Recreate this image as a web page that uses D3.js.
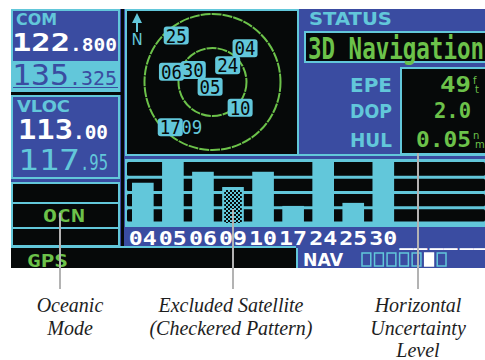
<!DOCTYPE html>
<html>
<head>
<meta charset="utf-8">
<script src="https://cdn.jsdelivr.net/npm/d3@7"></script>
<style>
body { margin: 0; background: #fff; }
svg { display: block; }
</style>
</head>
<body>
<svg id="chart" width="485" height="360"></svg>
<script>
// satellites
var satIds = ["04", "05", "06", "09", "10", "17", "24", "25", "30"];
var satSignal = [6.6, 10, 8.4, 5.9, 8.4, 2.8, 10, 3.3, 10];
var satAzimuth = [44, 207, 284, 205, 133, 223, 42, 322, 302];
var satElevation = [28, 83, 34, 25, 40, 8, 60, 12, 60];
var excludedSats = ["09"];
var emptySlots = ["e1", "e2", "e3"];
var skyDrawOrder = ["09", "17", "25", "04", "24", "06", "30", "05", "10"];

var statusLabels = ["EPE", "DOP", "HUL"];
var statusValues = ["49", "2.0", "0.05"];
var statusUnits = [["f", "t"], [], ["n", "m"]];
var navBoxes = [0, 0, 0, 0, 0, 1, 0];

var captions = [
  {x: 70, lineX: 60, lines: ["Oceanic", "Mode"], lineTop: 213},
  {x: 231, lineX: 233, lines: ["Excluded Satellite", "(Checkered Pattern)"], lineTop: 209},
  {x: 418, lineX: 418, lines: ["Horizontal", "Uncertainty", "Level"], lineTop: 153}
];

var BLUE = "#3a4ca1", CYAN = "#62c7da", GREEN = "#6cc24a", BLACK = "#060909", WHITE = "#ffffff";
var MONO = "DejaVu Sans Mono", SANS = "DejaVu Sans";

var svg = d3.select("#chart");
var defs = svg.append("defs");
var pat = defs.append("pattern").attr("id", "checker")
  .attr("width", 4).attr("height", 4).attr("patternUnits", "userSpaceOnUse");
pat.append("rect").attr("width", 4).attr("height", 4).attr("fill", CYAN);
pat.append("rect").attr("width", 2).attr("height", 2).attr("fill", BLACK);
pat.append("rect").attr("x", 2).attr("y", 2).attr("width", 2).attr("height", 2).attr("fill", BLACK);

function txt(x, y, s, o) {
  var t = svg.append("text").attr("x", x).attr("y", y).text(s)
    .attr("font-family", o.font || MONO)
    .attr("font-size", o.size)
    .attr("font-weight", o.weight || "bold")
    .attr("fill", o.fill)
    .attr("text-anchor", o.anchor || "start");
  if (o.len) t.attr("textLength", o.len).attr("lengthAdjust", "spacingAndGlyphs");
  return t;
}

// screen background
svg.append("rect").attr("x", 11).attr("y", 9).attr("width", 474).attr("height", 259).attr("fill", BLUE);
svg.append("rect").attr("x", 121).attr("y", 9).attr("width", 3).attr("height", 239).attr("fill", BLACK);

// COM box
svg.append("rect").attr("x", 12).attr("y", 10).attr("width", 107).attr("height", 81)
  .attr("fill", BLUE).attr("stroke", CYAN).attr("stroke-width", 2);
txt(16, 25, "COM", {font: SANS, size: 16, fill: CYAN, len: 41});
txt(12, 51, "122", {size: 25, fill: WHITE, len: 58});
txt(70, 51, ".800", {size: 17, fill: WHITE, len: 47});
svg.append("rect").attr("x", 11).attr("y", 61).attr("width", 109).attr("height", 26).attr("fill", CYAN);
txt(12, 85, "135", {size: 29, weight: "normal", fill: BLUE, len: 57});
txt(69, 85, ".325", {size: 19, weight: "normal", fill: BLUE, len: 48});
svg.append("rect").attr("x", 11).attr("y", 88).attr("width", 109).attr("height", 2).attr("fill", CYAN);
svg.append("rect").attr("x", 11).attr("y", 92).attr("width", 110).attr("height", 3).attr("fill", BLACK);

// VLOC box
svg.append("rect").attr("x", 12).attr("y", 96).attr("width", 107).attr("height", 82)
  .attr("fill", BLUE).attr("stroke", CYAN).attr("stroke-width", 2);
txt(17, 112, "VLOC", {font: SANS, size: 16, fill: CYAN, len: 53});
txt(18, 139, "113", {size: 27, fill: WHITE, len: 55});
txt(73, 139, ".00", {size: 19, fill: WHITE, len: 35});
txt(18, 170, "117", {size: 29, weight: "normal", fill: CYAN, len: 62});
txt(80, 170, ".95", {size: 21, weight: "normal", fill: CYAN, len: 28});

// lower-left mode panel
svg.append("rect").attr("x", 12).attr("y", 183).attr("width", 107).attr("height", 63)
  .attr("fill", BLACK).attr("stroke", CYAN).attr("stroke-width", 2);
[203, 228].forEach(function (y) {
  svg.append("rect").attr("x", 12).attr("y", y - 1).attr("width", 107).attr("height", 2).attr("fill", CYAN);
});
txt(43, 222, "OCN", {size: 17, fill: GREEN, len: 42});

// bottom strip
svg.append("rect").attr("x", 11).attr("y", 246).attr("width", 285).attr("height", 2).attr("fill", CYAN);
svg.append("rect").attr("x", 11).attr("y", 248).attr("width", 285).attr("height", 20).attr("fill", BLACK);
txt(27, 267, "GPS", {size: 18, fill: GREEN, len: 41});
svg.append("rect").attr("x", 296).attr("y", 248).attr("width", 2).attr("height", 20).attr("fill", CYAN);
txt(303, 266, "NAV", {font: SANS, size: 17, fill: WHITE, len: 40});
var navX = d3.scaleBand().domain(d3.range(navBoxes.length)).range([362, 446]).paddingInner(0.3);
svg.selectAll(".navbox").data(navBoxes).enter().append("rect")
  .attr("x", function (d, i) { return navX(i); })
  .attr("y", 253).attr("width", navX.bandwidth()).attr("height", 13)
  .attr("fill", function (d) { return d ? WHITE : "none"; })
  .attr("stroke", function (d) { return d ? WHITE : CYAN; })
  .attr("stroke-width", 1.5);

// sky view
svg.append("rect").attr("x", 126).attr("y", 10).attr("width", 172).attr("height", 145)
  .attr("fill", BLACK).attr("stroke", CYAN).attr("stroke-width", 2);
var cx = 212.5, cy = 82;
var rScale = d3.scaleLinear().domain([90, 0]).range([0, 68]);
[0, 45].forEach(function (el) {
  svg.append("circle").attr("cx", cx).attr("cy", cy).attr("r", rScale(el))
    .attr("fill", "none").attr("stroke", GREEN).attr("stroke-width", 2)
    .attr("stroke-dasharray", "10 1");
});
svg.append("path").attr("d", "M137,13 L132,23 L136,23 L136,32 L138,32 L138,23 L142,23 Z").attr("fill", CYAN);
txt(137, 45, "N", {font: SANS, size: 15, weight: "normal", fill: CYAN, anchor: "middle"});

function skyPos(id) {
  var i = satIds.indexOf(id);
  var r = rScale(satElevation[i]), a = satAzimuth[i] * Math.PI / 180;
  return [cx + r * Math.sin(a), cy - r * Math.cos(a)];
}
var skyG = svg.selectAll(".sat").data(skyDrawOrder).enter().append("g")
  .attr("transform", function (d) { var p = skyPos(d); return "translate(" + p[0] + "," + p[1] + ")"; });
skyG.filter(function (d) { return excludedSats.indexOf(d) < 0; }).append("rect")
  .attr("x", -12.5).attr("y", -9).attr("width", 25).attr("height", 18).attr("rx", 3)
  .attr("fill", CYAN);
skyG.append("text").text(function (d) { return d; })
  .attr("text-anchor", "middle").attr("y", 7)
  .attr("font-family", MONO).attr("font-size", 19)
  .attr("textLength", 21).attr("lengthAdjust", "spacingAndGlyphs")
  .attr("fill", function (d) { return excludedSats.indexOf(d) < 0 ? BLACK : CYAN; });

// status panel
svg.append("rect").attr("x", 299).attr("y", 154).attr("width", 186).attr("height", 2).attr("fill", CYAN);
txt(309, 25, "STATUS", {font: SANS, size: 17, fill: CYAN, len: 83});
svg.append("rect").attr("x", 305).attr("y", 32).attr("width", 190).attr("height", 30)
  .attr("fill", BLACK).attr("stroke", CYAN).attr("stroke-width", 2);
txt(308, 59, "3D Navigation", {size: 30, fill: GREEN, len: 176});
svg.append("rect").attr("x", 401).attr("y", 68).attr("width", 95).attr("height", 86)
  .attr("fill", BLACK).attr("stroke", CYAN).attr("stroke-width", 2);
var rowY = [92, 118, 147];
var valLen = [31, 37, 55];
statusLabels.forEach(function (lab, i) {
  txt(392, rowY[i], lab, {font: SANS, size: 20, fill: CYAN, anchor: "end", len: 42});
  txt(471, rowY[i], statusValues[i], {size: 22, fill: GREEN, anchor: "end", len: valLen[i]});
  statusUnits[i].forEach(function (u, j) {
    txt(473 + j * 2, rowY[i] - 8 + j * 9, u, {font: SANS, size: 10, weight: "normal", fill: GREEN});
  });
});

// signal bars
var slots = satIds.concat(emptySlots);
var x = d3.scaleBand().domain(slots).range([127.8, 488.5]).paddingInner(0.28).paddingOuter(0.14);
var y = d3.scaleLinear().domain([0, 10]).range([223, 162]);
svg.append("rect").attr("x", 125).attr("y", 159).attr("width", 360).attr("height", 68).attr("fill", CYAN);
var rowLevels = [10, 7.5, 5, 2.5];
svg.selectAll(".gridrow").data(rowLevels).enter().append("rect")
  .attr("x", 127).attr("width", 358)
  .attr("y", function (d, i) { return y(d) + (i ? 1.5 : 0); })
  .attr("height", function (d, i) { return y(d - 2.5) - y(d) - (i ? 3 : 1.5); })
  .attr("rx", 1.5).attr("fill", BLACK);
satIds.forEach(function (id, i) {
  var bx = x(id), bw = x.bandwidth(), top = y(satSignal[i]);
  svg.append("rect").attr("x", bx).attr("y", top).attr("width", bw).attr("height", y(0) - top).attr("fill", CYAN);
  if (excludedSats.indexOf(id) >= 0) {
    svg.append("rect").attr("x", bx + 2).attr("y", top + 3).attr("width", bw - 4).attr("height", y(0) - top - 3)
      .attr("fill", "url(#checker)");
  }
});
slots.forEach(function (s) {
  var lab = emptySlots.indexOf(s) >= 0 ? "__" : s;
  txt(x(s) + x.bandwidth() / 2, 245, lab, {size: 19, fill: WHITE, anchor: "middle", len: 28});
});

// callout lines and captions
captions.forEach(function (c) {
  svg.append("line").attr("x1", c.lineX).attr("x2", c.lineX)
    .attr("y1", c.lineTop).attr("y2", 289)
    .attr("stroke", "#b3b3b3").attr("stroke-width", 2);
  c.lines.forEach(function (l, j) {
    txt(c.x, 312 + j * 22.5, l, {font: "Liberation Serif", size: 20, weight: "normal", fill: "#1e1e1e", anchor: "middle"})
      .attr("font-style", "italic");
  });
});
</script>
</body>
</html>
